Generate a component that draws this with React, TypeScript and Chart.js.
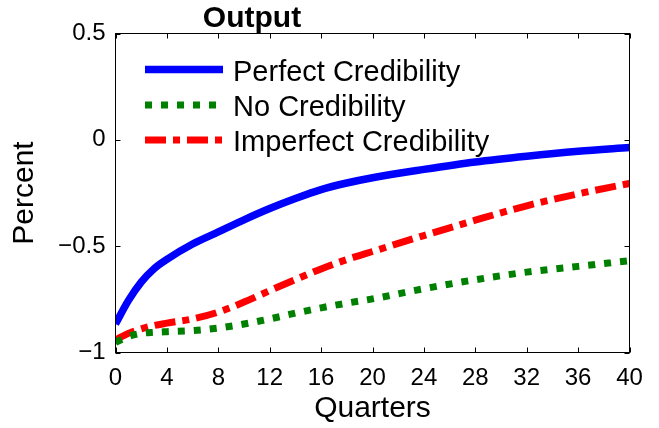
import React, { useEffect, useRef } from "react";
import { Chart, registerables } from "chart.js";

Chart.register(...registerables);

// ---- data ----
const quarters = [0, 1, 2, 3, 4, 6, 8, 10, 12, 14, 16, 18, 20, 24, 28, 32, 36, 40];
const perfectCred = [-0.866, -0.756, -0.669, -0.606, -0.562, -0.49, -0.433, -0.376, -0.323, -0.276, -0.234, -0.203, -0.178, -0.139, -0.104, -0.077, -0.054, -0.036];
const noCred = [-0.952, -0.925, -0.91, -0.905, -0.902, -0.897, -0.885, -0.866, -0.842, -0.815, -0.79, -0.768, -0.748, -0.7, -0.658, -0.622, -0.595, -0.568];
const imperfectCred = [-0.941, -0.91, -0.889, -0.873, -0.862, -0.842, -0.81, -0.763, -0.709, -0.657, -0.607, -0.563, -0.525, -0.45, -0.378, -0.31, -0.254, -0.205];

const seriesLabels = ["Perfect Credibility", "No Credibility", "Imperfect Credibility"];
const seriesColors = ["#0000ff", "#008000", "#ff0000"];
const xTickValues = [0, 4, 8, 12, 16, 20, 24, 28, 32, 36, 40];
const yTickValues = [-1, -0.5, 0, 0.5];
const chartTitle = "Output";
const xAxisTitle = "Quarters";
const yAxisTitle = "Percent";

const FONT = '"Liberation Sans", Arial, Helvetica, sans-serif';

const fmtY = (v: number) => (v < 0 ? "\u2212" + String(Math.abs(v)) : String(v));

const framePlugin = {
  id: "matlabFrame",
  afterDatasetsDraw(chart: any) {
    const { ctx, chartArea: a, scales } = chart;
    ctx.save();
    ctx.strokeStyle = "#000";
    ctx.lineWidth = 1;
    ctx.setLineDash([]);
    ctx.strokeRect(a.left, a.top, a.right - a.left, a.bottom - a.top);
    const L = 5;
    ctx.beginPath();
    for (const t of scales.x.ticks) {
      const px = Math.round(scales.x.getPixelForValue(t.value)) + 0.5;
      ctx.moveTo(px, a.bottom);
      ctx.lineTo(px, a.bottom - L);
      ctx.moveTo(px, a.top);
      ctx.lineTo(px, a.top + L);
    }
    for (const t of scales.y.ticks) {
      const py = Math.round(scales.y.getPixelForValue(t.value)) + 0.5;
      ctx.moveTo(a.left, py);
      ctx.lineTo(a.left + L, py);
      ctx.moveTo(a.right, py);
      ctx.lineTo(a.right - L, py);
    }
    ctx.stroke();
    ctx.restore();
  },
};

const legendTitlePlugin = {
  id: "innerLegendTitle",
  afterDraw(chart: any) {
    const { ctx } = chart;
    ctx.save();
    // title
    ctx.fillStyle = "#000";
    ctx.font = `bold 30px ${FONT}`;
    ctx.textAlign = "center";
    ctx.textBaseline = "middle";
    ctx.fillText(chartTitle, 252, 19);
    // legend
    const x0 = 145;
    const x1 = 223;
    const rowY = [69.5, 105, 140];
    chart.data.datasets.forEach((ds: any, i: number) => {
      const y = rowY[i];
      ctx.strokeStyle = ds.borderColor;
      ctx.lineWidth = ds.borderWidth;
      ctx.lineCap = "butt";
      ctx.setLineDash(ds.borderDash || []);
      ctx.beginPath();
      ctx.moveTo(x0, y);
      ctx.lineTo(x1, y);
      ctx.stroke();
      ctx.setLineDash([]);
      ctx.fillStyle = "#000";
      ctx.font = `29px ${FONT}`;
      ctx.textAlign = "left";
      ctx.textBaseline = "middle";
      ctx.fillText(ds.label, 233, y + 3);
    });
    ctx.restore();
  },
};

export default function App() {
  const ref = useRef<HTMLCanvasElement | null>(null);

  useEffect(() => {
    if (!ref.current) return;
    const mk = (vals: number[]) => quarters.map((q, i) => ({ x: q, y: vals[i] }));
    const chart = new Chart(ref.current, {
      type: "line",
      data: {
        datasets: [
          {
            label: seriesLabels[0],
            data: mk(perfectCred),
            borderColor: seriesColors[0],
            borderWidth: 7.5,
            pointRadius: 0,
            cubicInterpolationMode: "monotone",
            borderCapStyle: "butt",
          },
          {
            label: seriesLabels[1],
            data: mk(noCred),
            borderColor: seriesColors[1],
            borderWidth: 7,
            borderDash: [7, 9],
            pointRadius: 0,
            cubicInterpolationMode: "monotone",
            borderCapStyle: "butt",
          },
          {
            label: seriesLabels[2],
            data: mk(imperfectCred),
            borderColor: seriesColors[2],
            borderWidth: 7,
            borderDash: [21, 7, 7, 7],
            pointRadius: 0,
            cubicInterpolationMode: "monotone",
            borderCapStyle: "butt",
          },
        ],
      },
      options: {
        animation: false,
        responsive: false,
        devicePixelRatio: 1,
        events: [],
        layout: { padding: { left: 0, right: 29.5, top: 33.5, bottom: 0 } },
        plugins: {
          legend: { display: false },
          title: { display: false },
          tooltip: { enabled: false },
        },
        scales: {
          x: {
            type: "linear",
            min: 0,
            max: 40,
            afterBuildTicks: (s: any) => {
              s.ticks = xTickValues.map((v) => ({ value: v }));
            },
            afterFit: (s: any) => {
              s.height = 428 - 352.5;
            },
            grid: { display: false, drawTicks: false },
            border: { display: false },
            ticks: {
              color: "#000",
              font: { family: FONT, size: 24 },
              padding: 11,
              maxRotation: 0,
              autoSkip: false,
            },
            title: {
              display: true,
              text: xAxisTitle,
              color: "#000",
              font: { family: FONT, size: 30, lineHeight: 1.2 },
              padding: { top: 0, bottom: 1 },
            },
          },
          y: {
            type: "linear",
            min: -1,
            max: 0.5,
            afterBuildTicks: (s: any) => {
              s.ticks = yTickValues.map((v) => ({ value: v }));
            },
            afterFit: (s: any) => {
              s.width = 115.5;
            },
            grid: { display: false, drawTicks: false },
            border: { display: false },
            ticks: {
              color: "#000",
              font: { family: FONT, size: 24 },
              padding: 10,
              callback: (v: any) => fmtY(Number(v)),
            },
            title: {
              display: true,
              text: yAxisTitle,
              color: "#000",
              font: { family: FONT, size: 30, lineHeight: 1.2 },
              padding: { top: 7, bottom: 0 },
            },
          },
        },
      },
      plugins: [framePlugin, legendTitlePlugin],
    } as any);
    return () => chart.destroy();
  }, []);

  return (
    <div style={{ position: "absolute", left: 0, top: 0, width: 659, height: 428, background: "#fff" }}>
      <canvas ref={ref} width={659} height={428} style={{ display: "block", width: 659, height: 428 }} />
    </div>
  );
}
